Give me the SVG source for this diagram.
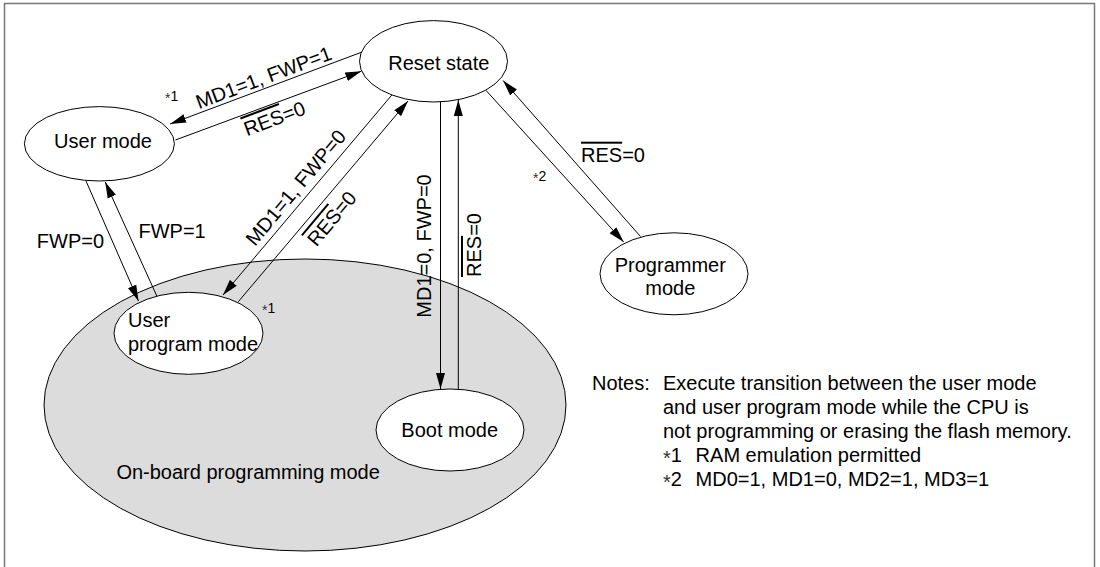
<svg xmlns="http://www.w3.org/2000/svg" width="1100" height="567" viewBox="0 0 1100 567">
<style>
text{font-family:"Liberation Sans",Arial,sans-serif;font-size:20px;fill:#000}
.n{fill:#fff;stroke:#000;stroke-width:1}
.c{fill:none;stroke:#000;stroke-width:1;marker-end:url(#ah)}
.s{font-size:14px}
.ov{text-decoration:overline}
.ast{fill:#333}
</style>
<defs>
<marker id="ah" markerUnits="userSpaceOnUse" markerWidth="16" markerHeight="10" refX="16" refY="5" orient="auto">
<path d="M0,0.5 L16,5 L0,9.5 z" fill="#000"/>
</marker>
</defs>
<rect x="4.5" y="3.5" width="1090" height="620" fill="#fff" stroke="#777" stroke-width="1.5"/>
<g id="onboard">
<ellipse cx="305" cy="405" rx="261" ry="146" fill="#dcdcdc" stroke="#000" stroke-width="1"/>
<text x="116.4" y="479.3">On-board programming mode</text>
</g>
<g id="reset">
<ellipse class="n" cx="433.5" cy="61.3" rx="74" ry="40.7"/>
<text x="438.8" y="70" text-anchor="middle">Reset state</text>
</g>
<g id="user">
<ellipse class="n" cx="99.4" cy="143.8" rx="75" ry="37.2"/>
<text x="103" y="148.3" text-anchor="middle">User mode</text>
</g>
<g id="userprog">
<ellipse class="n" cx="188.5" cy="333.3" rx="74.5" ry="41"/>
<text x="128" y="326.7">User</text>
<text x="128" y="350.7">program mode</text>
</g>
<g id="boot">
<ellipse class="n" cx="450" cy="430" rx="74" ry="41"/>
<text x="449.7" y="436.7" text-anchor="middle">Boot mode</text>
</g>
<g id="programmer">
<ellipse class="n" cx="674" cy="273.8" rx="74" ry="41"/>
<text x="670.3" y="271.7" text-anchor="middle">Programmer</text>
<text x="670.3" y="295" text-anchor="middle">mode</text>
</g>
<g id="connectors">
<path class="c" d="M361.3,52.3 L170.1,124"/>
<path class="c" d="M175.4,140 L361.3,71.2"/>
<path class="c" d="M392,94.8 L223,295"/>
<path class="c" d="M238.3,301.7 L408,101"/>
<path class="c" d="M86,181 L138.5,301"/>
<path class="c" d="M156.8,296 L105.2,182"/>
<path class="c" d="M440.5,102 L440.5,389"/>
<path class="c" d="M458.3,389 L458.3,100"/>
<path class="c" d="M486,90.4 L623.7,242"/>
<path class="c" d="M640.5,236.5 L503,80.5"/>
</g>
<g id="labels">
<text transform="translate(266,84) rotate(-20.6)" text-anchor="middle">MD1=1, FWP=1</text>
<text class="s" x="165" y="101"><tspan class="ast" dy="1.5">*</tspan><tspan dy="-1.5">1</tspan></text>
<text transform="translate(277,125) rotate(-20.6)" text-anchor="middle"><tspan class="ov">RES</tspan>=0</text>
<text transform="translate(301,192) rotate(-50)" text-anchor="middle">MD1=1, FWP=0</text>
<text transform="translate(337,223) rotate(-50)" text-anchor="middle"><tspan class="ov">RES</tspan>=0</text>
<text class="s" x="262" y="313"><tspan class="ast" dy="1.5">*</tspan><tspan dy="-1.5">1</tspan></text>
<text x="36.8" y="248.3">FWP=0</text>
<text x="138.5" y="237.7">FWP=1</text>
<text transform="translate(431,246) rotate(-90)" text-anchor="middle">MD1=0, FWP=0</text>
<text transform="translate(481,245) rotate(-90)" text-anchor="middle"><tspan class="ov">RES</tspan>=0</text>
<text x="581" y="161.7"><tspan class="ov">RES</tspan>=0</text>
<text class="s" x="533" y="181"><tspan class="ast" dy="1.5">*</tspan><tspan dy="-1.5">2</tspan></text>
</g>
<g id="notes">
<text x="592" y="390">Notes:</text>
<text x="663" y="390">Execute transition between the user mode</text>
<text x="663" y="414">and user program mode while the CPU is</text>
<text x="663" y="438">not programming or erasing the flash memory.</text>
<text x="663" y="462"><tspan class="ast" dy="2.5">*</tspan><tspan dy="-2.5">1</tspan></text>
<text x="695.6" y="462">RAM emulation permitted</text>
<text x="663" y="486"><tspan class="ast" dy="2.5">*</tspan><tspan dy="-2.5">2</tspan></text>
<text x="695.6" y="486">MD0=1, MD1=0, MD2=1, MD3=1</text>
</g>
</svg>
